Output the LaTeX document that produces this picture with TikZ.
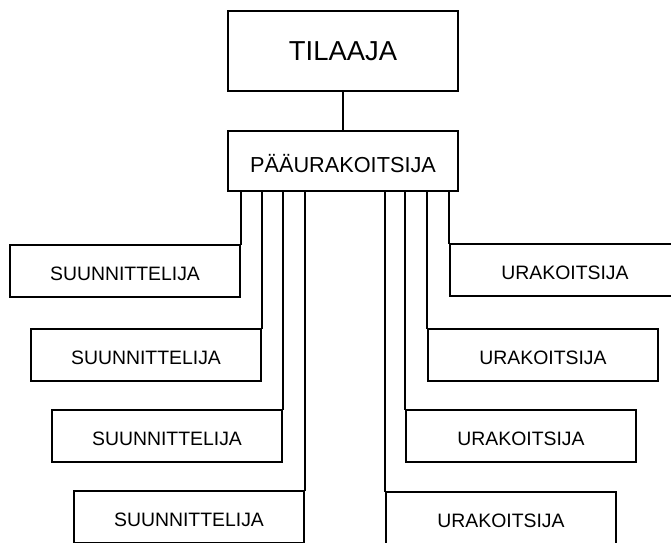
\documentclass[tikz,border=0pt]{standalone}
\usepackage{fontspec}
\setmainfont{Liberation Sans}
\begin{document}
\begin{tikzpicture}[x=1bp,y=-1bp,
  line width=2bp,
  box/.style={draw, rectangle, inner sep=0pt, minimum width=230bp, text depth=0pt},
  topbox/.style={box, minimum height=80bp, text height=20bp,
    font=\fontsize{27.4bp}{32bp}\selectfont},
  mainbox/.style={box, minimum height=60bp, text height=22.6bp,
    font=\fontsize{21.7bp}{26bp}\selectfont},
  unitbox/.style={box, minimum height=52bp, text height=19.5bp,
    font=\fontsize{19.4bp}{23bp}\selectfont},
  link/.style={draw, line cap=rect}]
\clip (0,0) rectangle (671,543);
\fill[white] (0,0) rectangle (671,543);

% client and main contractor
\node[topbox]  (ti) at (343,51)  {TILAAJA};
\node[mainbox] (pa) at (343,161) {PÄÄURAKOITSIJA};
\draw[link] (ti) -- (pa);

% designers, stepped to the left
\node[unitbox] (s1) at (125,271) {SUUNNITTELIJA};
\node[unitbox] (s2) at (146,355) {SUUNNITTELIJA};
\node[unitbox] (s3) at (167,436) {SUUNNITTELIJA};
\node[unitbox] (s4) at (189,517) {SUUNNITTELIJA};

% contractors, stepped to the right
\node[unitbox] (u1) at (565,270) {URAKOITSIJA};
\node[unitbox] (u2) at (543,355) {URAKOITSIJA};
\node[unitbox] (u3) at (521,436) {URAKOITSIJA};
\node[unitbox] (u4) at (501,518) {URAKOITSIJA};

% drop lines from the main contractor
\foreach \n in {s1,s2,s3,s4}
  \draw[link] (pa.south -| \n.north east) -- (\n.north east);
\foreach \n in {u1,u2,u3,u4}
  \draw[link] (pa.south -| \n.north west) -- (\n.north west);
\end{tikzpicture}
\end{document}
